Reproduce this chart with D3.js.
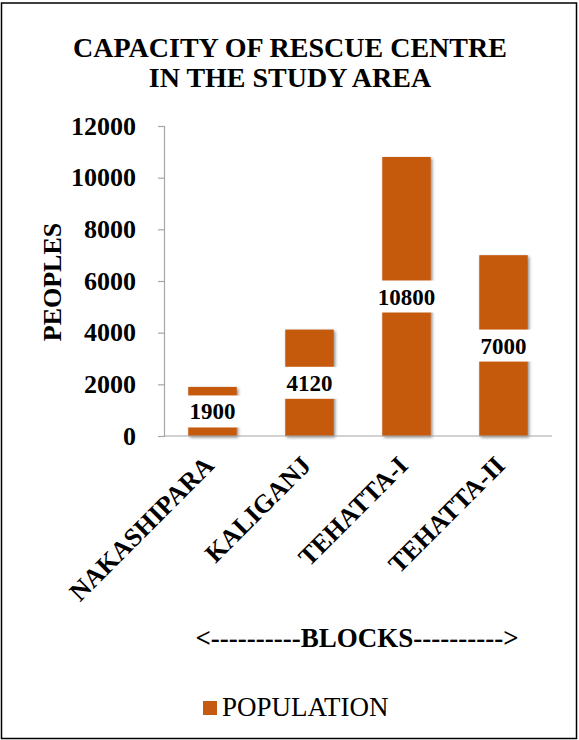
<!DOCTYPE html>
<html>
<head>
<meta charset="utf-8">
<script src="https://cdn.jsdelivr.net/npm/d3@7"></script>
<style>
  body { margin: 0; background: #fff; }
  text { font-family: "Liberation Serif", "Times New Roman", serif; }
</style>
</head>
<body>
<div id="chart"></div>
<script>
const WIDTH = 579;
const HEIGHT = 740;

const blocks = ['NAKASHIPARA', 'KALIGANJ', 'TEHATTA-I', 'TEHATTA-II'];
const population = [1900, 4120, 10800, 7000];
const yTicks = [0, 2000, 4000, 6000, 8000, 10000, 12000];

const BAR_COLOR = '#C55A11';
const AXIS_COLOR = '#A6A6A6';

let svg = d3.select('#chart').append('svg')
    .attr('width', WIDTH)
    .attr('height', HEIGHT);

// drop shadow for the bars
let defs = svg.append('defs');
let shadow = defs.append('filter').attr('id', 'shadow')
    .attr('x', '-20%').attr('y', '-20%').attr('width', '150%').attr('height', '150%');
shadow.append('feDropShadow')
    .attr('dx', 1.5).attr('dy', 1.5).attr('stdDeviation', 1.5)
    .attr('flood-color', '#000').attr('flood-opacity', 0.45);

// outer frame
svg.append('rect')
    .attr('x', 1.5).attr('y', 3)
    .attr('width', WIDTH - 4).attr('height', HEIGHT - 4.5)
    .attr('fill', 'none').attr('stroke', '#000').attr('stroke-width', 1.5);

// title
let title = svg.append('text')
    .attr('x', 290).attr('y', 57)
    .attr('text-anchor', 'middle')
    .attr('font-size', 28).attr('font-weight', 'bold');
title.append('tspan').attr('x', 290).text('CAPACITY OF RESCUE CENTRE');
title.append('tspan').attr('x', 290).attr('dy', 30).text('IN THE STUDY AREA');

const plot = { left: 164, right: 552, top: 126, bottom: 436 };

let xScale = d3.scaleBand()
    .domain(blocks)
    .range([plot.left, plot.right])
    .paddingInner(0.5)
    .paddingOuter(0.25);

let yScale = d3.scaleLinear()
    .domain([0, 12000])
    .range([plot.bottom, plot.top]);

// y axis
let yAxis = svg.append('g')
    .attr('transform', 'translate(' + plot.left + ',0)')
    .call(d3.axisLeft(yScale).tickValues(yTicks).tickSize(6).tickPadding(22).tickFormat(d3.format('d')));
yAxis.select('.domain').attr('stroke', AXIS_COLOR).attr('stroke-width', 1.2);
yAxis.selectAll('.tick line').attr('stroke', AXIS_COLOR).attr('stroke-width', 1.2);
yAxis.selectAll('.tick text')
    .attr('font-size', 26).attr('font-weight', 'bold').attr('fill', '#000')
    .attr('font-family', '"Liberation Serif", serif');

// bars
svg.append('g').selectAll('rect')
    .data(population)
    .join('rect')
    .attr('x', (d, i) => xScale(blocks[i]))
    .attr('y', d => yScale(d))
    .attr('width', xScale.bandwidth())
    .attr('height', d => plot.bottom - yScale(d))
    .attr('fill', BAR_COLOR)
    .attr('filter', 'url(#shadow)');

// x axis line
svg.append('line')
    .attr('x1', plot.left).attr('x2', plot.right)
    .attr('y1', plot.bottom).attr('y2', plot.bottom)
    .attr('stroke', AXIS_COLOR).attr('stroke-width', 1.2);

// value labels in white boxes
let labels = svg.append('g').selectAll('g')
    .data(population)
    .join('g')
    .attr('transform', (d, i) => 'translate(' + (xScale(blocks[i]) + xScale.bandwidth() / 2) + ','
        + ((yScale(d) + plot.bottom) / 2) + ')');
labels.append('rect')
    .attr('x', d => d >= 10000 ? -31 : -29).attr('y', -16)
    .attr('width', d => d >= 10000 ? 62 : 58).attr('height', 32)
    .attr('fill', '#fff');
labels.append('text')
    .attr('text-anchor', 'middle')
    .attr('dy', 8)
    .attr('font-size', 23).attr('font-weight', 'bold')
    .text(d => d);

// category labels, rotated
svg.append('g').selectAll('text')
    .data(blocks)
    .join('text')
    .attr('transform', d => 'translate(' + (xScale(d) + xScale.bandwidth() / 2 + 3) + ',' + 467 + ') rotate(-45)')
    .attr('text-anchor', 'end')
    .attr('font-size', 26).attr('font-weight', 'bold')
    .text(d => d);

// y axis title
svg.append('text')
    .attr('transform', 'translate(61,282) rotate(-90)')
    .attr('text-anchor', 'middle')
    .attr('font-size', 26).attr('font-weight', 'bold')
    .text('PEOPLES');

// x axis title
svg.append('text')
    .attr('x', 357).attr('y', 647)
    .attr('text-anchor', 'middle')
    .attr('font-size', 27).attr('font-weight', 'bold')
    .text('<----------BLOCKS---------->');

// legend
svg.append('rect')
    .attr('x', 203).attr('y', 701)
    .attr('width', 14).attr('height', 14)
    .attr('fill', BAR_COLOR);
svg.append('text')
    .attr('x', 222).attr('y', 716)
    .attr('font-size', 27)
    .text('POPULATION');
</script>
</body>
</html>
